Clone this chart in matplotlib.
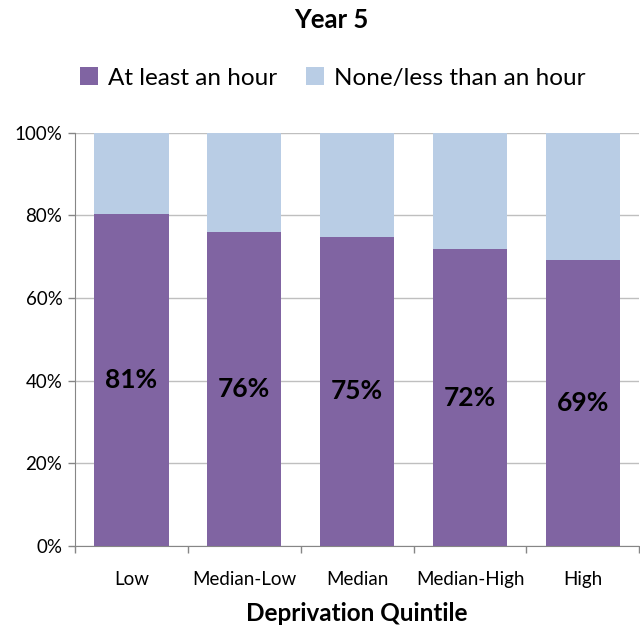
import matplotlib.pyplot as plt
import numpy as np

plt.rcParams['font.family'] = ['Lato', 'DejaVu Sans']

# Data
categories = ['Low', 'Median-Low', 'Median', 'Median-High', 'High']
at_least_hour = [80.4, 76.1, 74.8, 71.8, 69.3]
labels = ['81%', '76%', '75%', '72%', '69%']
less_than_hour = [100 - v for v in at_least_hour]

purple = '#8064A2'
light_blue = '#B9CDE5'
grid_grey = '#BFBFBF'
axis_grey = '#868686'

fig = plt.figure(figsize=(6.4, 6.3), dpi=100)
ax = fig.add_axes([0.117, 0.1333, 0.882, 0.656])

x = np.arange(len(categories))
ax.bar(x, at_least_hour, width=0.66, color=purple, label='At least an hour', zorder=3)
ax.bar(x, less_than_hour, width=0.66, bottom=at_least_hour, color=light_blue,
       label='None/less than an hour', zorder=3)

# Labels inside the bars
for xi, v, lab in zip(x, at_least_hour, labels):
    ax.text(xi, v / 2, lab, ha='center', va='center', fontsize=19,
            fontweight='bold', color='black', zorder=4)

ax.set_xlim(-0.5, len(categories) - 0.5)
ax.set_ylim(0, 100)
ax.set_yticks(range(0, 101, 20))
ax.set_yticklabels([f'{v}%' for v in range(0, 101, 20)], fontsize=13.5)
ax.yaxis.grid(True, color=grid_grey, linewidth=1, zorder=0)

ax.set_xticks(x)
ax.set_xticklabels(categories, fontsize=13.5)
ax.set_xticks(np.arange(-0.5, len(categories)), minor=True)
ax.tick_params(axis='x', which='major', length=0, pad=18)
ax.tick_params(axis='x', which='minor', length=5, color=axis_grey, width=1)
ax.tick_params(axis='y', length=5, color=axis_grey, width=1, pad=4)

for side in ['top', 'right']:
    ax.spines[side].set_visible(False)
for side in ['left', 'bottom']:
    ax.spines[side].set_color(axis_grey)

ax.set_xlabel('Deprivation Quintile', fontsize=17.5, fontweight='bold', labelpad=10)

fig.suptitle('Year 5', x=0.517, y=0.988, fontsize=18.5, fontweight='bold')
fig.legend(loc='center', bbox_to_anchor=(0.52, 0.876), ncol=2, frameon=False,
           fontsize=17.5, handlelength=0.75, handleheight=0.75, columnspacing=1.2,
           handletextpad=0.4)

fig.savefig('out.png', dpi=100)
